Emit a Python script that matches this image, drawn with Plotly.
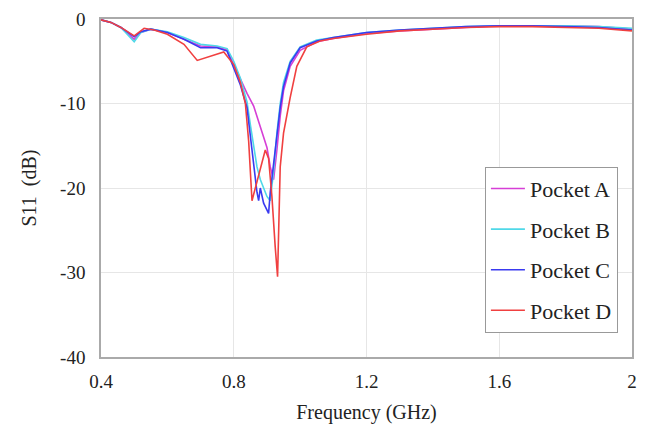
import plotly.graph_objects as go

# Frequency (GHz) and S11 (dB) for each pocket
freq_a = [0.40, 0.43, 0.46, 0.49, 0.50, 0.52, 0.55, 0.60, 0.65, 0.70, 0.75, 0.78, 0.80, 0.82, 0.84, 0.86, 0.88, 0.90, 0.91, 0.92, 0.93, 0.94, 0.95, 0.97, 1.00, 1.05, 1.10, 1.20, 1.30, 1.40, 1.50, 1.60, 1.70, 1.80, 1.90, 2.00]
s11_a = [-0.1, -0.4, -1.0, -2.1, -2.4, -1.6, -1.2, -1.6, -2.4, -3.2, -3.3, -3.7, -5.4, -7.2, -8.8, -10.3, -12.8, -15.2, -17.5, -19.0, -15.5, -11.5, -8.5, -5.6, -3.7, -2.7, -2.3, -1.7, -1.4, -1.2, -1.0, -0.8, -0.8, -0.8, -0.9, -1.2]

freq_b = [0.40, 0.43, 0.46, 0.49, 0.50, 0.52, 0.55, 0.60, 0.65, 0.70, 0.75, 0.78, 0.80, 0.82, 0.84, 0.85, 0.86, 0.87, 0.88, 0.89, 0.90, 0.91, 0.92, 0.93, 0.94, 0.95, 0.97, 1.00, 1.05, 1.10, 1.20, 1.30, 1.40, 1.50, 1.60, 1.70, 1.80, 1.90, 2.00]
s11_b = [-0.1, -0.4, -1.0, -2.3, -2.7, -1.6, -1.2, -1.5, -2.2, -3.0, -3.2, -3.5, -5.0, -7.0, -9.8, -12.5, -15.0, -17.5, -19.0, -20.0, -21.0, -21.5, -18.0, -13.5, -10.0, -7.5, -5.0, -3.3, -2.5, -2.2, -1.6, -1.3, -1.1, -0.9, -0.8, -0.8, -0.8, -0.9, -1.1]

freq_c = [0.40, 0.43, 0.46, 0.49, 0.50, 0.52, 0.55, 0.60, 0.65, 0.70, 0.75, 0.78, 0.80, 0.82, 0.84, 0.85, 0.86, 0.87, 0.875, 0.88, 0.89, 0.90, 0.905, 0.91, 0.92, 0.93, 0.94, 0.95, 0.97, 1.00, 1.05, 1.10, 1.20, 1.30, 1.40, 1.50, 1.60, 1.70, 1.80, 1.90, 2.00]
s11_c = [-0.1, -0.4, -1.0, -1.9, -2.1, -1.5, -1.2, -1.6, -2.4, -3.4, -3.4, -3.8, -5.7, -7.8, -10.5, -14.0, -17.5, -20.5, -21.5, -20.0, -21.8, -22.6, -23.0, -20.5, -17.0, -13.5, -10.5, -8.0, -5.2, -3.4, -2.6, -2.2, -1.6, -1.3, -1.1, -0.9, -0.8, -0.8, -0.9, -1.0, -1.3]

freq_d = [0.40, 0.43, 0.46, 0.49, 0.50, 0.53, 0.56, 0.60, 0.65, 0.69, 0.72, 0.77, 0.80, 0.82, 0.835, 0.845, 0.855, 0.865, 0.88, 0.895, 0.905, 0.915, 0.925, 0.932, 0.94, 0.95, 0.97, 0.99, 1.02, 1.06, 1.10, 1.20, 1.30, 1.40, 1.50, 1.60, 1.70, 1.80, 1.90, 2.00]
s11_d = [-0.1, -0.4, -1.0, -1.8, -2.0, -1.1, -1.3, -1.8, -3.0, -4.9, -4.5, -3.9, -5.4, -7.5, -10.0, -14.5, -21.5, -20.0, -17.5, -15.5, -16.5, -21.0, -27.0, -30.5, -17.5, -13.5, -9.3, -5.6, -3.3, -2.6, -2.3, -1.8, -1.4, -1.2, -1.0, -0.9, -0.9, -1.0, -1.1, -1.4]

names = ["Pocket A", "Pocket B", "Pocket C", "Pocket D"]
colors = ["#d63fd6", "#4fd8e8", "#3a3af0", "#f04040"]

x_ticks = [0.4, 0.8, 1.2, 1.6, 2.0]
x_tick_labels = ["0.4", "0.8", "1.2", "1.6", "2"]
y_ticks = [0, -10, -20, -30, -40]
y_tick_labels = ["0", "-10", "-20", "-30", "-40"]

series = [(freq_a, s11_a), (freq_b, s11_b), (freq_c, s11_c), (freq_d, s11_d)]

fig = go.Figure()
for (fx, fy), name, col in zip(series, names, colors):
    fig.add_trace(go.Scatter(x=fx, y=fy, mode="lines", name=name, legendgroup=name,
                             line=dict(color=col, width=1.6)))

font_family = "Liberation Serif"
fig.update_layout(
    width=638, height=417,
    margin=dict(l=93, r=14, t=11, b=68),
    paper_bgcolor="white", plot_bgcolor="white",
    font=dict(family=font_family, size=19, color="#222222"),
    showlegend=True,
    legend=dict(x=0.723, y=0.563, xanchor="left", yanchor="top",
                bgcolor="white", bordercolor="#999999", borderwidth=1,
                font=dict(family=font_family, size=22, color="#222222"),
                tracegroupgap=9, itemwidth=34),
    xaxis=dict(range=[0.4, 2.0], tickvals=x_ticks, ticktext=x_tick_labels,
               automargin=False,
               showgrid=True, gridcolor="#e6e6e6", gridwidth=1,
               showline=True, linecolor="#aaaaaa", linewidth=1.5, mirror=True,
               ticks="", zeroline=False, ticklabelstandoff=6,
               title=dict(text="Frequency (GHz)", font=dict(family=font_family, size=20), standoff=14),
               tickfont=dict(family=font_family, size=19)),
    yaxis=dict(range=[-40, 0], tickvals=y_ticks, ticktext=y_tick_labels,
               automargin=False,
               showgrid=True, gridcolor="#e6e6e6", gridwidth=1,
               showline=True, linecolor="#aaaaaa", linewidth=1.5, mirror=True,
               ticks="", zeroline=False, ticklabelstandoff=10,
               title=dict(text="S11  (dB)", font=dict(family=font_family, size=20), standoff=18),
               tickfont=dict(family=font_family, size=19)),
)

fig.write_html("out.html")
